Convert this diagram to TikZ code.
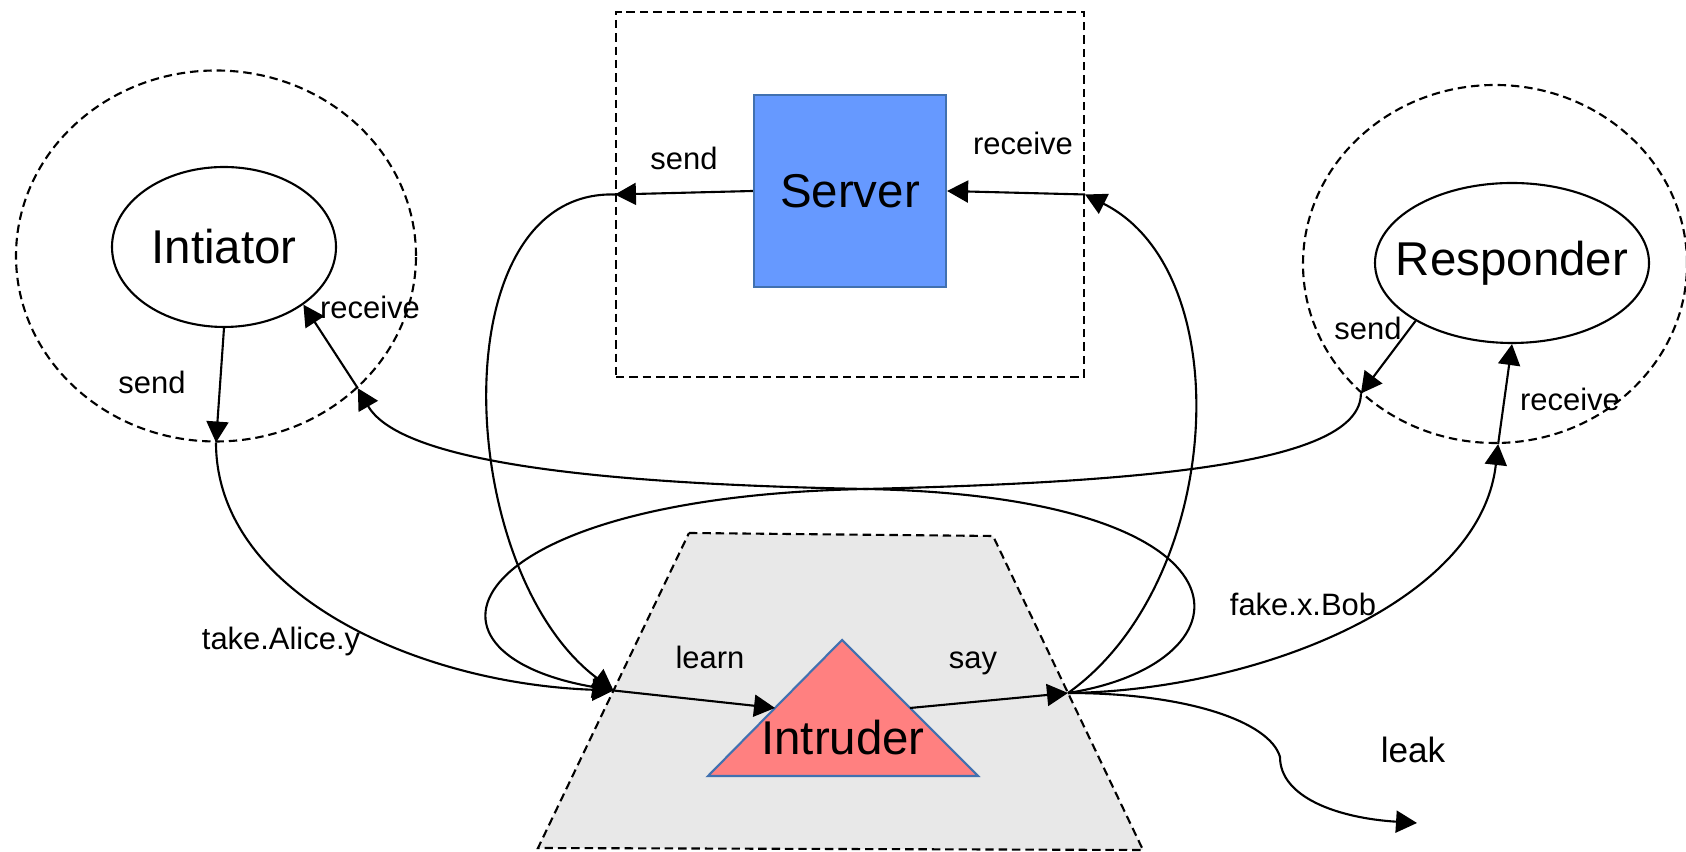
\documentclass[tikz,border=0pt]{standalone}
\usepackage{fontspec}
\setmainfont{Liberation Sans}
\usetikzlibrary{
    shapes.geometric,
    arrows.meta,
    positioning,
    calc
}
\definecolor{serverBlue}{RGB}{102, 153, 255}
\definecolor{edgeBlue}{RGB}{65, 113, 176}
\definecolor{intruderRed}{RGB}{255, 128, 128}
\definecolor{zoneGray}{RGB}{232, 232, 232}
\def\picW{16.86}
\def\picH{8.52}
\tikzset{
    canvas/.style={
        rectangle,
        fill=white,
        minimum width=\picW cm,
        minimum height=\picH cm,
        anchor=south west
    },
    boundary/.style={
        draw=black,
        dash pattern=on 2.4pt off 1.4pt,
        line width=0.6pt,
        inner sep=0pt
    },
    bigLabel/.style={
        font=\fontsize{13.5}{16}\selectfont,
        inner sep=0pt
    },
    process/.style={
        ellipse,
        draw=black,
        line width=0.6pt,
        inner sep=0pt,
        minimum height=1.6cm,
        label={[bigLabel]center:#1}
    },
    serverBox/.style={
        rectangle,
        fill=serverBlue,
        draw=edgeBlue,
        line width=0.6pt,
        minimum width=1.92cm,
        minimum height=1.92cm,
        font=\fontsize{13.5}{16}\selectfont
    },
    spy/.style={
        fill=intruderRed,
        draw=edgeBlue,
        line width=0.6pt
    },
    portLabel/.style={
        font=\fontsize{8.8}{10}\selectfont,
        inner sep=0pt
    },
    channel/.style={
        line width=0.6pt,
        -{Triangle[length=2.1mm, width=2.2mm]}
    }
}

\begin{document}
\begin{tikzpicture}
    \useasboundingbox (0,0) rectangle (\picW, \picH);
    \node[canvas] (page) at (0,0) {};

    % Process boundaries
    \node[boundary, ellipse, minimum width=4.0cm, minimum height=3.71cm] (initZone) at (2.16, 5.96) {};
    \node[boundary, rectangle, minimum width=4.68cm, minimum height=3.65cm] (srvZone) at (8.50, 6.575) {};
    \node[boundary, ellipse, minimum width=3.84cm, minimum height=3.58cm] (respZone) at (14.95, 5.88) {};

    % Intruder area
    \coordinate (zoneTL) at (6.89, 3.19);
    \coordinate (zoneTR) at (9.93, 3.16);
    \coordinate (zoneBR) at (11.43, 0.02);
    \coordinate (zoneBL) at (5.38, 0.04);
    \draw[boundary, fill=zoneGray] (zoneTL) -- (zoneTR) -- (zoneBR) -- (zoneBL) -- cycle;

    % Agents
    \node[process=Intiator, minimum width=2.24cm] (init) at (2.24, 6.05) {};
    \node[serverBox] (srv) at (8.50, 6.61) {Server};
    \node[process=Responder, minimum width=2.74cm] (resp) at (15.12, 5.89) {};

    \coordinate (apex) at (8.42, 2.12);
    \coordinate (baseL) at (7.08, 0.76);
    \coordinate (baseR) at (9.78, 0.76);
    \draw[spy] (apex) -- (baseR) -- (baseL) -- cycle;
    \node[bigLabel] (intruder) at (8.43, 1.14) {Intruder};

    % Ports
    \coordinate (iSend) at (initZone.south);
    \coordinate (iRecv) at (initZone.-43);
    \coordinate (sSend) at (srvZone.west);
    \coordinate (sRecv) at (srvZone.east);
    \coordinate (rSend) at (respZone.224);
    \coordinate (rRecv) at (respZone.271);
    \coordinate (learn) at ($(zoneTL)!0.5!(zoneBL)$);
    \coordinate (say) at ($(zoneTR)!0.5!(zoneBR)$);
    \coordinate (cross) at (8.66, 3.63);
    \coordinate (leakBend) at (12.80, 0.95);
    \coordinate (leakEnd) at (14.17, 0.29);

    % Inner arrows
    \draw[channel] (init.south) -- (iSend);
    \draw[channel] (iRecv) -- (init.-36);
    \draw[channel] (srv.west) -- (sSend);
    \draw[channel] (sRecv) -- (srv.east);
    \draw[channel] (resp.211) -- (rSend);
    \draw[channel] (rRecv) -- (resp.south);
    \draw[channel] (learn) -- ($(apex)!0.5!(baseL)$);
    \draw[channel] ($(apex)!0.5!(baseR)$) -- (say);

    % Channels through the intruder
    \draw[channel] (iSend) .. controls +(0,-1.5) and +(-1.98,0.07) .. (learn);
    \draw[channel] (sSend) .. controls +(-1.76,0.05) and +(-1.6,1.2) .. (learn);
    \draw[channel] (say) .. controls +(1.55,1.1) and +(1.56,-0.78) .. (sRecv);
    \draw[channel] (rSend) .. controls +(0,-0.7) and +(2.84,0.07) .. (cross)
        .. controls +(-4.06,-0.08) and +(-2.18,0.38) .. (learn);
    \draw[channel] (say) .. controls +(1.9,0.3) and +(4.0,-0.08) .. (cross)
        .. controls +(-2.66,0.05) and +(0.43,-0.745) .. (iRecv);
    \draw[channel] (say) .. controls +(1.85,0.02) and +(-0.18,-1.6) .. (rRecv);
    \draw[channel] (say) .. controls +(1.2,0) and +(-0.1,0.35) .. (leakBend)
        .. controls +(0,-0.4) and +(-0.8,0.05) .. (leakEnd);

    % Labels
    \node[portLabel] (iSendLbl) at (1.52, 4.70) {send};
    \node[portLabel] (iRecvLbl) at (3.70, 5.45) {receive};
    \node[portLabel] (sSendLbl) at (6.84, 6.94) {send};
    \node[portLabel] (sRecvLbl) at (10.23, 7.09) {receive};
    \node[portLabel] (rSendLbl) at (13.68, 5.24) {send};
    \node[portLabel] (rRecvLbl) at (15.70, 4.53) {receive};
    \node[portLabel] (learnLbl) at (7.10, 1.95) {learn};
    \node[portLabel] (sayLbl) at (9.73, 1.89) {say};
    \node[portLabel] (takeLbl) at (2.81, 2.10) {take.Alice.y};
    \node[portLabel] (fakeLbl) at (13.03, 2.48) {fake.x.Bob};
    \node[portLabel, font=\fontsize{10}{12}\selectfont] (leakLbl) at (14.13, 1.02) {leak};
\end{tikzpicture}
\end{document}
